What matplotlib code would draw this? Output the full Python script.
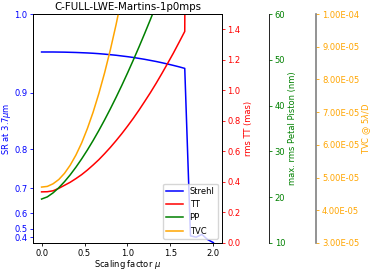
import matplotlib
matplotlib.use("Agg")
import matplotlib.pyplot as plt
import numpy as np
from matplotlib.ticker import FormatStrFormatter

""" Scaling study, C-FULL-LWE-Martins-1p0mps """

scaling = [0.0, 0.0667, 0.1333, 0.2, 0.2667, 0.3333, 0.4, 0.4667, 0.5333, 0.6,
           0.6667, 0.7333, 0.8, 0.8667, 0.9333, 1.0, 1.0667, 1.1333, 1.2, 1.2667,
           1.3333, 1.4, 1.4667, 1.5333, 1.6, 1.6667, 1.7333, 1.8, 1.8667, 1.9333, 2.0]

strehl = [0.9557, 0.9557, 0.9557, 0.9556, 0.9555, 0.9553, 0.9551, 0.9548, 0.9545, 0.9541,
          0.9536, 0.9530, 0.9523, 0.9516, 0.9507, 0.9498, 0.9488, 0.9476, 0.9464, 0.9450,
          0.9436, 0.9420, 0.9403, 0.9385, 0.9366, 0.9345, 0.42, 0.40, 0.44, 0.35, 0.20]

tt = [0.335, 0.336, 0.342, 0.358, 0.378, 0.398, 0.422, 0.448, 0.478, 0.511,
      0.546, 0.585, 0.626, 0.670, 0.716, 0.765, 0.816, 0.870, 0.927, 0.985,
      1.046, 1.110, 1.176, 1.243, 1.314, 1.386, 9.0, 12.0, 15.0, 18.0, 20.0]

pp = [19.6, 20.07, 20.94, 22.06, 23.39, 24.89, 26.56, 28.37, 30.31, 32.38,
      34.57, 36.87, 39.28, 41.79, 44.39, 47.1, 49.9, 52.78, 55.75, 58.8,
      61.94, 65.15, 68.45, 71.81, 75.26, 78.77, 300.0, 350.0, 400.0, 450.0, 500.0]

tvc = [4.71e-5, 4.73e-5, 4.81e-5, 4.94e-5, 5.13e-5, 5.38e-5, 5.69e-5, 6.06e-5, 6.50e-5, 7.00e-5,
       7.57e-5, 8.20e-5, 8.90e-5, 9.67e-5, 10.51e-5, 11.41e-5, 12.38e-5, 13.42e-5, 14.54e-5, 15.7e-5,
       16.97e-5, 18.29e-5, 19.69e-5, 21.15e-5, 22.69e-5, 24.3e-5, 80e-5, 90e-5, 100e-5, 110e-5, 120e-5]

sr_ticks = [0.4, 0.5, 0.6, 0.7, 0.8, 0.9, 1.0]

plt.rcParams["font.size"] = 6
plt.rcParams["axes.linewidth"] = 0.6
plt.rcParams["xtick.major.width"] = 0.6
plt.rcParams["ytick.major.width"] = 0.6
plt.rcParams["xtick.major.size"] = 2.5
plt.rcParams["ytick.major.size"] = 2.5
plt.rcParams["xtick.major.pad"] = 1.5
plt.rcParams["ytick.major.pad"] = 1.5

fig = plt.figure(figsize=(3.74, 2.7), dpi=100)
ax = fig.add_axes([0.0882, 0.1, 0.5053, 0.848])

def fwd(y):
    return np.clip(y, 0, None) ** 4

def inv(y):
    return np.clip(y, 0, None) ** 0.25

ax.set_yscale("function", functions=(fwd, inv))
l1, = ax.plot(scaling, strehl, color="blue", lw=1.1, label="Strehl")
ax.set_ylim(0, 1.0)
ax.set_yticks(sr_ticks)
ax.yaxis.set_major_formatter(FormatStrFormatter("%.1f"))
ax.set_ylabel(r"SR at 3.7$\mu$m", color="blue", labelpad=1)
ax.tick_params(axis="y", colors="blue")
ax.set_xlabel(r"Scaling factor $\mu$", labelpad=0.5)
ax.set_title("C-FULL-LWE-Martins-1p0mps", fontsize=7.4, pad=3)

ax2 = ax.twinx()
l2, = ax2.plot(scaling, tt, color="red", lw=1.1, label="TT")
ax2.set_ylim(0, 1.5)
ax2.set_ylabel("rms TT (mas)", color="red", labelpad=2)
ax2.tick_params(axis="y", colors="red")

ax3 = ax.twinx()
ax3.spines["right"].set_position(("axes", 1.25))
l3, = ax3.plot(scaling, pp, color="green", lw=1.1, label="PP")
ax3.set_ylim(10, 60)
ax3.set_ylabel("max. rms Petal Piston (nm)", color="green", labelpad=2)
ax3.tick_params(axis="y", colors="green")

ax4 = ax.twinx()
ax4.spines["right"].set_position(("axes", 1.5))
ax4.spines["right"].set_color("grey")
ax4.spines["right"].set_linewidth(1.2)
l4, = ax4.plot(scaling, tvc, color="orange", lw=1.1, label="TVC")
ax4.set_ylim(3e-5, 1e-4)
ax4.yaxis.set_major_formatter(FormatStrFormatter("%.2E"))
ax4.set_ylabel(r"TVC @ 5$\lambda$/D", color="orange", labelpad=1)
ax4.tick_params(axis="y", colors="orange")

ax.set_xlim(-0.1, 2.1)

ax4.legend(handles=[l1, l2, l3, l4], loc="lower right")

fig.savefig("out.png", dpi=100)
